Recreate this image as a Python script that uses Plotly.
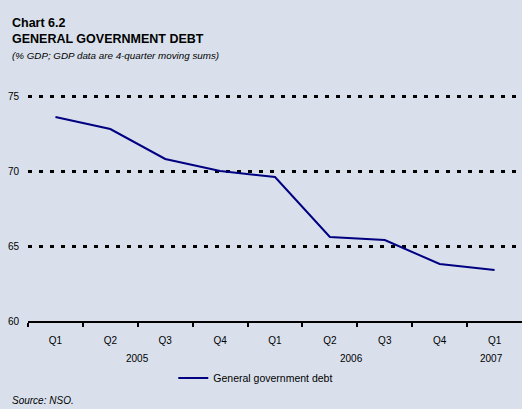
import plotly.graph_objects as go

quarters = ["Q1", "Q2", "Q3", "Q4", "Q1", "Q2", "Q3", "Q4", "Q1"]
years = ["2005", "2006", "2007"]
year_pos = [1.5, 5.4, 7.95]
debt = [73.6, 72.8, 70.8, 70.0, 69.6, 65.6, 65.4, 63.8, 63.4]
y_ticks = [60, 65, 70, 75]

BG = "#D9E0EC"
FONT = "Liberation Sans, Arial, sans-serif"
xs = list(range(len(quarters)))

fig = go.Figure()
fig.add_trace(go.Scatter(
    x=xs, y=debt, mode="lines", name="General government debt",
    line=dict(color="#000080", width=2),
))

fig.update_layout(
    width=522, height=409,
    margin=dict(l=28, r=0, t=81, b=88),
    paper_bgcolor=BG, plot_bgcolor=BG,
    font=dict(family=FONT, size=10, color="#000000"),
    showlegend=True,
    legend=dict(orientation="h", xref="container", x=0.49, xanchor="center",
                yref="container", y=31/409, yanchor="middle",
                font=dict(size=10.5), itemwidth=30, bgcolor="rgba(0,0,0,0)"),
    xaxis=dict(
        range=[-0.5, 8.5], tickvals=xs, ticktext=quarters, ticks="",
        showgrid=False, zeroline=False, showline=True, linecolor="#000000",
        linewidth=2, ticklabelstandoff=9,
        minor=dict(tickvals=[i - 0.5 for i in xs], ticks="outside",
                   ticklen=4, tickwidth=2, tickcolor="#000000", showgrid=False),
    ),
    yaxis=dict(
        range=[60, 76], tickvals=y_ticks, ticks="", showline=False,
        zeroline=False, showgrid=True, gridcolor="#000000", gridwidth=2.5,
        griddash="4px,7px", ticklabelstandoff=8,
    ),
)

for yr, xp in zip(years, year_pos):
    fig.add_annotation(x=xp, y=0, xref="x", yref="paper", text=yr,
                       showarrow=False, yanchor="middle", yshift=-37,
                       font=dict(size=10))

x_left = (10 - 28) / 494
fig.add_annotation(x=x_left, y=1, xref="paper", yref="paper", xanchor="left",
                   yanchor="middle", yshift=58, showarrow=False,
                   text="<b>Chart 6.2</b>", font=dict(size=12.5))
fig.add_annotation(x=x_left, y=1, xref="paper", yref="paper", xanchor="left",
                   yanchor="middle", yshift=42, showarrow=False,
                   text="<b>GENERAL GOVERNMENT DEBT</b>", font=dict(size=12.5))
fig.add_annotation(x=x_left, y=1, xref="paper", yref="paper", xanchor="left",
                   yanchor="middle", yshift=26, showarrow=False,
                   text="<i>(% GDP; GDP data are 4-quarter moving sums)</i>",
                   font=dict(size=9.8))
fig.add_annotation(x=x_left, y=0, xref="paper", yref="paper", xanchor="left",
                   yanchor="middle", yshift=-79, showarrow=False,
                   text="<i>Source: NSO.</i>", font=dict(size=10))

fig.write_html(
    "out.html",
    config={"displayModeBar": False},
    post_script="document.body.style.margin='0';"
                "document.body.style.background='" + BG + "';",
)
